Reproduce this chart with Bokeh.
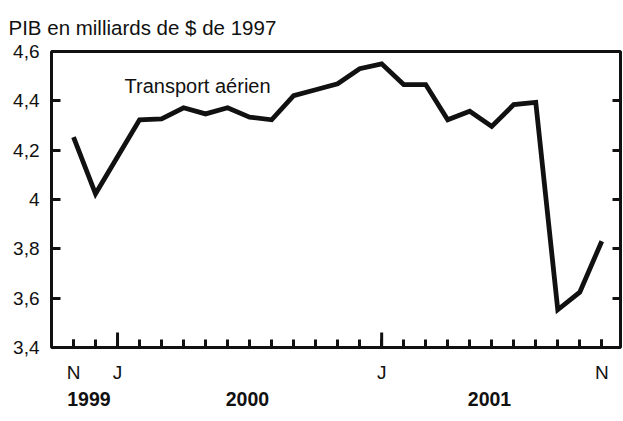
from bokeh.plotting import figure
from bokeh.models import Range1d, FixedTicker, LinearAxis, Title
from bokeh.core.properties import value
from bokeh.embed import file_html
from bokeh.resources import INLINE

# ---- data ----
months = ["N", "D", "J", "F", "M", "A", "M", "J", "J", "A", "S", "O",
          "N", "D", "J", "F", "M", "A", "M", "J", "J", "A", "S", "O", "N"]
gdp = [4.253, 4.023, 4.173, 4.323, 4.327, 4.372, 4.347, 4.372, 4.334, 4.323,
       4.421, 4.445, 4.469, 4.530, 4.550, 4.466, 4.466, 4.323, 4.358, 4.296,
       4.385, 4.394, 3.553, 3.624, 3.831]
x_idx = list(range(len(gdp)))
month_tick_idx = [0, 2, 14, 24]
month_tick_lbl = ["N", "J", "J", "N"]
year_pos = [0.7, 7.9, 18.9]
year_lbl = ["1999", "2000", "2001"]
y_ticks = [3.4, 3.6, 3.8, 4.0, 4.2, 4.4, 4.6]
y_tick_lbl = ["3,4", "3,6", "3,8", "4", "4,2", "4,4", "4,6"]
title_text = "PIB en milliards de $ de 1997"
series_name = "Transport aérien"
series_label_x = 2.32
series_label_y = 4.46

FONT = "Liberation Sans"
INK = "#111111"

jan_idx = [i for i in range(1, len(months)) if months[i] == "J" and months[i - 1] == "D"]

p = figure(width=623, height=421, output_backend="svg", toolbar_location=None,
           x_range=Range1d(-1.0, 24.85), y_range=Range1d(3.4, 4.6),
           min_border_left=51, min_border_right=3, min_border_top=51,
           min_border_bottom=74, y_axis_location=None, x_axis_location=None)
p.background_fill_color = "white"
p.border_fill_color = "white"
p.outline_line_color = INK
p.outline_line_width = 3
p.xgrid.visible = False
p.ygrid.visible = False

t = Title(text=title_text, align="left", text_font=FONT, text_font_size="20.5px",
          text_font_style="normal", text_color=INK, offset=-43, standoff=26)
p.add_layout(t, "above")

# left axis
yl = LinearAxis(ticker=FixedTicker(ticks=y_ticks),
                major_label_overrides={v: s for v, s in zip(y_ticks, y_tick_lbl)},
                major_tick_in=9, major_tick_out=0, major_tick_line_width=3,
                major_tick_line_color=INK, minor_tick_line_color=None,
                axis_line_color=None, major_label_standoff=12,
                major_label_text_font=FONT, major_label_text_font_size="19px",
                major_label_text_color=INK)
p.add_layout(yl, "left")

# right axis (ticks only)
yr = LinearAxis(ticker=FixedTicker(ticks=y_ticks[1:-1]),
                major_label_overrides={v: "" for v in y_ticks},
                major_tick_in=8, major_tick_out=0, major_tick_line_width=3,
                major_tick_line_color=INK, minor_tick_line_color=None,
                axis_line_color=None, major_label_standoff=0,
                major_label_text_font_size="0px")
p.add_layout(yr, "right")

# bottom month axis
xb = LinearAxis(ticker=FixedTicker(ticks=month_tick_idx, minor_ticks=x_idx),
                major_label_overrides={v: s for v, s in zip(month_tick_idx, month_tick_lbl)},
                major_tick_in=8, major_tick_out=0, major_tick_line_width=3,
                major_tick_line_color=INK,
                minor_tick_in=8, minor_tick_out=0, minor_tick_line_width=3,
                minor_tick_line_color=INK,
                axis_line_color=None, major_label_standoff=14,
                major_label_text_font=FONT, major_label_text_font_size="19px",
                major_label_text_color=INK)
p.add_layout(xb, "below")

# year axis
xy = LinearAxis(ticker=FixedTicker(ticks=year_pos),
                major_label_overrides={v: s for v, s in zip(year_pos, year_lbl)},
                major_tick_line_color=None, minor_tick_line_color=None,
                major_tick_in=0, major_tick_out=0,
                axis_line_color=None, major_label_standoff=6,
                major_label_text_font=FONT, major_label_text_font_size="19.5px",
                major_label_text_font_style="bold",
                major_label_text_color=INK)
p.add_layout(xy, "below")

# longer January ticks
p.segment(x0=jan_idx, x1=jan_idx, y0=[3.4] * len(jan_idx),
          y1=[3.4 + 0.061] * len(jan_idx), line_color=INK, line_width=3)

p.line(x_idx, gdp, line_color=INK, line_width=4.8, line_join="miter")

p.text(x=[series_label_x], y=[series_label_y], text=[series_name],
       text_font=value(FONT), text_font_size="20px", text_color=INK,
       text_align="left", text_baseline="alphabetic")

open("out.html", "w").write(file_html(p, INLINE))
